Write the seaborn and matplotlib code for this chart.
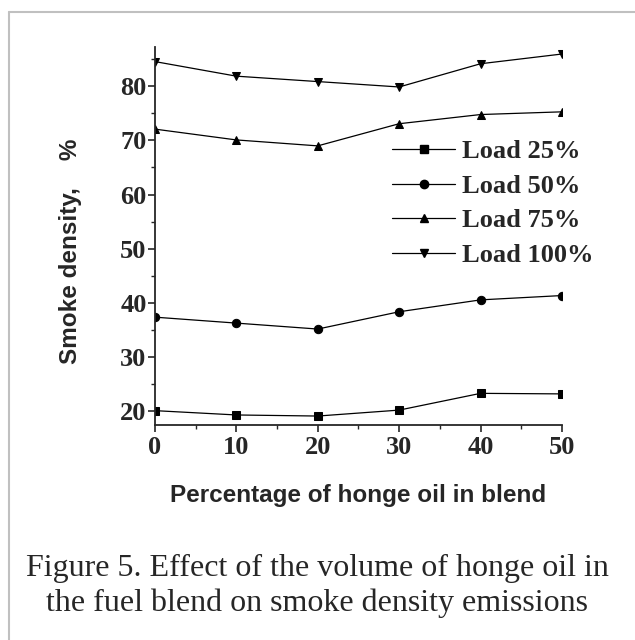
"""
Smoke density vs percentage of honge oil in the fuel blend, one line per engine load.
"""

import pandas as pd
import matplotlib
matplotlib.use("Agg")
import matplotlib.pyplot as plt
from matplotlib.lines import Line2D
import seaborn as sns

# Data
blend = [0, 10, 20, 30, 40, 50]
load_25 = [20.0, 19.2, 19.0, 20.1, 23.2, 23.1]
load_50 = [37.3, 36.2, 35.1, 38.3, 40.5, 41.3]
load_75 = [72.1, 70.1, 69.0, 73.1, 74.8, 75.3]
load_100 = [84.6, 81.9, 80.9, 79.9, 84.2, 86.0]
labels = ["Load 25%", "Load 50%", "Load 75%", "Load 100%"]
markers = ["s", "o", "^", "v"]

caption = ("Figure 5. Effect of the volume of honge oil in\n"
           "the fuel blend on smoke density emissions")


def build_frame():
    rows = []
    for lab, vals in zip(labels, [load_25, load_50, load_75, load_100]):
        for x, y in zip(blend, vals):
            rows.append({"blend": x, "smoke": y, "load": lab})
    return pd.DataFrame(rows)


def main():
    sns.set_style("ticks")
    serif = ["Liberation Serif", "DejaVu Serif"]
    sans = ["Liberation Sans", "DejaVu Sans"]

    df = build_frame()

    fig = plt.figure(figsize=(6.35, 6.4), dpi=100)
    ax = fig.add_axes([0.244, 0.336, 0.641, 0.591])

    sns.lineplot(data=df, x="blend", y="smoke", hue="load", style="load",
                 hue_order=labels, style_order=labels,
                 palette=["black"] * 4, markers=markers, dashes=False,
                 linewidth=0.9, markersize=6, markeredgecolor="black",
                 ax=ax, legend=False)

    ax.set_xlim(0, 50)
    ax.set_ylim(17.35, 87.35)
    ax.set_xticks(range(0, 51, 10))
    ax.set_xticks(range(5, 50, 10), minor=True)
    ax.set_yticks(range(20, 81, 10))
    ax.set_yticks(range(25, 86, 10), minor=True)
    ax.tick_params(which="major", length=5, width=1.2, direction="out")
    ax.tick_params(which="minor", length=3, width=1.0, direction="out")
    for lab in ax.get_xticklabels() + ax.get_yticklabels():
        lab.set_family(serif)
        lab.set_fontweight("bold")
        lab.set_fontsize(19)
    ax.tick_params(axis="y", pad=1)
    ax.tick_params(axis="x", pad=3)

    for side in ["left", "bottom"]:
        ax.spines[side].set_linewidth(1.3)
    sns.despine(ax=ax)

    ax.set_xlabel("Percentage of honge oil in blend", family=sans,
                  fontweight="bold", fontsize=17.5, labelpad=18)
    ax.set_ylabel("Smoke density,    %", family=sans, fontweight="bold",
                  fontsize=17.5)
    ax.yaxis.set_label_coords(-0.18, 0.458)

    handles = [Line2D([], [], color="black", linewidth=0.9, marker=m,
                      markersize=6) for m in markers]
    ax.legend(handles, labels, loc="upper left",
              bbox_to_anchor=(0.582, 0.754), frameon=False,
              prop={"family": serif, "weight": "bold", "size": 19},
              handlelength=2.4, handletextpad=0.25, labelspacing=0.42,
              borderaxespad=0, borderpad=0)

    fig.text(0.5, 0.084, caption, ha="center", va="center",
             family=serif, fontsize=23, linespacing=1.25)

    # gray frame around the figure (top and left edges visible)
    fig.add_artist(Line2D([9 / 635, 1], [1 - 12 / 640] * 2,
                          transform=fig.transFigure, color="#c0c0c0", lw=1.5))
    fig.add_artist(Line2D([9 / 635] * 2, [0, 1 - 12 / 640],
                          transform=fig.transFigure, color="#c0c0c0", lw=1.5))

    fig.savefig("out.png", dpi=100)


if __name__ == "__main__":
    main()
